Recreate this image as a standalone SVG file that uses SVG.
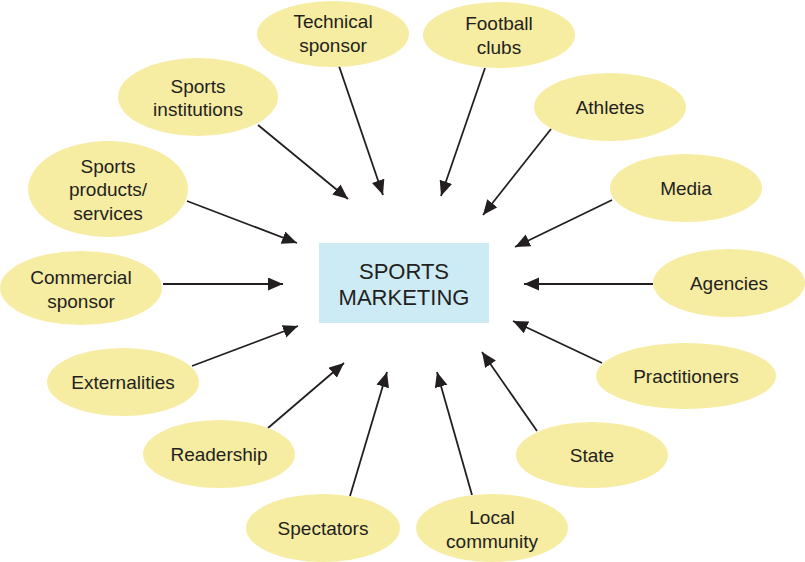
<svg xmlns="http://www.w3.org/2000/svg" width="805" height="562" viewBox="0 0 805 562">
<style>
.n ellipse{fill:#f6eca2;}
.n text{font-family:"Liberation Sans",Arial,sans-serif;font-size:19px;fill:#231f20;text-anchor:middle;}
.c line{stroke:#231f20;stroke-width:1.8;marker-end:url(#ah);}
#center text{font-family:"Liberation Sans",Arial,sans-serif;font-size:22px;fill:#231f20;text-anchor:middle;}
</style>
<defs>
<marker id="ah" markerUnits="userSpaceOnUse" markerWidth="16" markerHeight="14" refX="15" refY="6.5" orient="auto">
<path d="M0,0 L15,6.5 L0,13 Z" fill="#231f20"/>
</marker>
</defs>
<rect width="805" height="562" fill="#ffffff"/>
<g id="center">
<rect x="319" y="243" width="170" height="80" fill="#cdebf4"/>
<text x="404" y="279">SPORTS</text>
<text x="404" y="305">MARKETING</text>
</g>
<g class="c" id="connectors">
<line x1="339" y1="66" x2="383" y2="195"/>
<line x1="485" y1="68" x2="441" y2="196"/>
<line x1="258" y1="125" x2="348" y2="199"/>
<line x1="551" y1="129" x2="483" y2="215"/>
<line x1="612" y1="200" x2="515" y2="247"/>
<line x1="653" y1="284" x2="524" y2="284"/>
<line x1="187" y1="201" x2="297" y2="243"/>
<line x1="163" y1="284" x2="283" y2="284"/>
<line x1="192" y1="366" x2="298" y2="326"/>
<line x1="268" y1="428" x2="344" y2="363"/>
<line x1="350" y1="496" x2="387" y2="372"/>
<line x1="472" y1="495" x2="437" y2="372"/>
<line x1="537" y1="431" x2="482" y2="352"/>
<line x1="602" y1="363" x2="513" y2="321"/>
</g>
<g class="n" id="technical-sponsor"><ellipse cx="333" cy="34" rx="76" ry="33"/><text x="333" y="28">Technical</text><text x="333" y="52">sponsor</text></g>
<g class="n" id="football-clubs"><ellipse cx="499" cy="35" rx="76" ry="33"/><text x="499" y="30">Football</text><text x="499" y="54">clubs</text></g>
<g class="n" id="sports-institutions"><ellipse cx="198" cy="97" rx="80" ry="39"/><text x="198" y="93">Sports</text><text x="198" y="116">institutions</text></g>
<g class="n" id="athletes"><ellipse cx="610" cy="107" rx="76" ry="34"/><text x="610" y="114">Athletes</text></g>
<g class="n" id="sports-products"><ellipse cx="108" cy="189" rx="80" ry="48"/><text x="108" y="173">Sports</text><text x="108" y="196">products/</text><text x="108" y="220">services</text></g>
<g class="n" id="media"><ellipse cx="686" cy="188" rx="76" ry="34"/><text x="686" y="195">Media</text></g>
<g class="n" id="commercial-sponsor"><ellipse cx="81" cy="288" rx="81" ry="37"/><text x="81" y="284">Commercial</text><text x="81" y="308">sponsor</text></g>
<g class="n" id="agencies"><ellipse cx="729" cy="283" rx="76" ry="34"/><text x="729" y="290">Agencies</text></g>
<g class="n" id="externalities"><ellipse cx="123" cy="382" rx="76" ry="34"/><text x="123" y="389">Externalities</text></g>
<g class="n" id="practitioners"><ellipse cx="686" cy="376" rx="90" ry="33"/><text x="686" y="383">Practitioners</text></g>
<g class="n" id="readership"><ellipse cx="219" cy="454" rx="76" ry="34"/><text x="219" y="461">Readership</text></g>
<g class="n" id="state"><ellipse cx="592" cy="455" rx="76" ry="33"/><text x="592" y="462">State</text></g>
<g class="n" id="spectators"><ellipse cx="323" cy="528" rx="77" ry="34"/><text x="323" y="535">Spectators</text></g>
<g class="n" id="local-community"><ellipse cx="492" cy="528" rx="76" ry="34"/><text x="492" y="524">Local</text><text x="492" y="548">community</text></g>
</svg>
